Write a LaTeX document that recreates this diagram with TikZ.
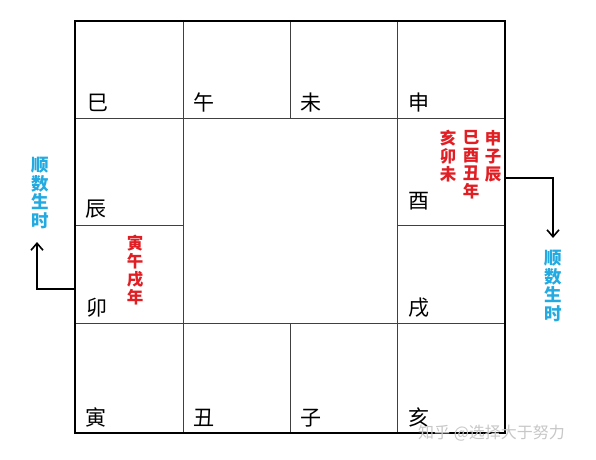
\documentclass[tikz,border=0pt]{standalone}
\usepackage{fontspec}
\newfontfamily\cjk{Noto Sans CJK SC}
\usetikzlibrary{arrows.meta}
\definecolor{notered}{RGB}{225,30,35}
\definecolor{timeblue}{RGB}{35,170,225}
\tikzset{%
    branch node/.style={anchor=base west,inner sep=0pt,
        font=\cjk\fontsize{21}{21}\selectfont},
    year node/.style={anchor=north,inner sep=0pt,align=center,text=notered,
        font=\cjk\bfseries\fontsize{16.5}{18}\selectfont},
    time node/.style={anchor=north,inner sep=0pt,align=center,text=timeblue,
        font=\cjk\bfseries\fontsize{17.5}{18.5}\selectfont}
}

\begin{document}
\begin{tikzpicture}[x=1pt,y=-1pt,>={Straight Barb[length=7pt,width=12pt]},
  grid line/.style={draw=black!75,line width=0.9pt},
  turn arrow/.style={->,line width=1.6pt}]
  \useasboundingbox[fill=white] (0,0) rectangle (596,459);

  % grid
  \draw[grid line] (75,118) -- (505,118) (75,323) -- (505,323)
    (75,225) -- (183,225) (397,225) -- (505,225)
    (183,21) -- (183,433) (397,21) -- (397,433)
    (290,21) -- (290,118) (290,323) -- (290,433);
  \draw[line width=2.4pt] (75,21) rectangle (505,433);

  % branches
  \node[branch node] (si)   at (87,110)  {巳};
  \node[branch node] (wu)   at (193,110) {午};
  \node[branch node] (wei)  at (300,110) {未};
  \node[branch node] (shen) at (408,110) {申};
  \node[branch node] (chen) at (85,216)  {辰};
  \node[branch node] (you)  at (408,208) {酉};
  \node[branch node] (mao)  at (86,315)  {卯};
  \node[branch node] (xu)   at (408,315) {戌};
  \node[branch node] (yin)  at (85,425)  {寅};
  \node[branch node] (chou) at (193,425) {丑};
  \node[branch node] (zi)   at (300,425) {子};
  \node[branch node] (hai)  at (408,425) {亥};

  % years
  \node[year node] (fire)  at (135,235) {寅\\午\\戌\\年};
  \node[year node] (water) at (493,130) {申\\子\\辰};
  \node[year node] (metal) at (471,130) {巳\\酉\\丑\\年};
  \node[year node] (wood)  at (448,130) {亥\\卯\\未};

  % counting
  \node[time node] (lefttime)  at (40,157)  {顺\\数\\生\\时};
  \node[time node] (righttime) at (553,250) {顺\\数\\生\\时};
  \coordinate (lfrom) at (75,289);
  \coordinate (lto)   at (37,242);
  \coordinate (rfrom) at (505,178);
  \coordinate (rto)   at (553,238);
  \draw[turn arrow] (lfrom) -| (lto);
  \draw[turn arrow] (rfrom) -| (rto);

  \node[anchor=west,inner sep=0pt,text=black!22,
    font=\cjk\fontsize{16}{16}\selectfont] (mark) at (418,433) {知乎 @选择大于努力};
\end{tikzpicture}
\end{document}
